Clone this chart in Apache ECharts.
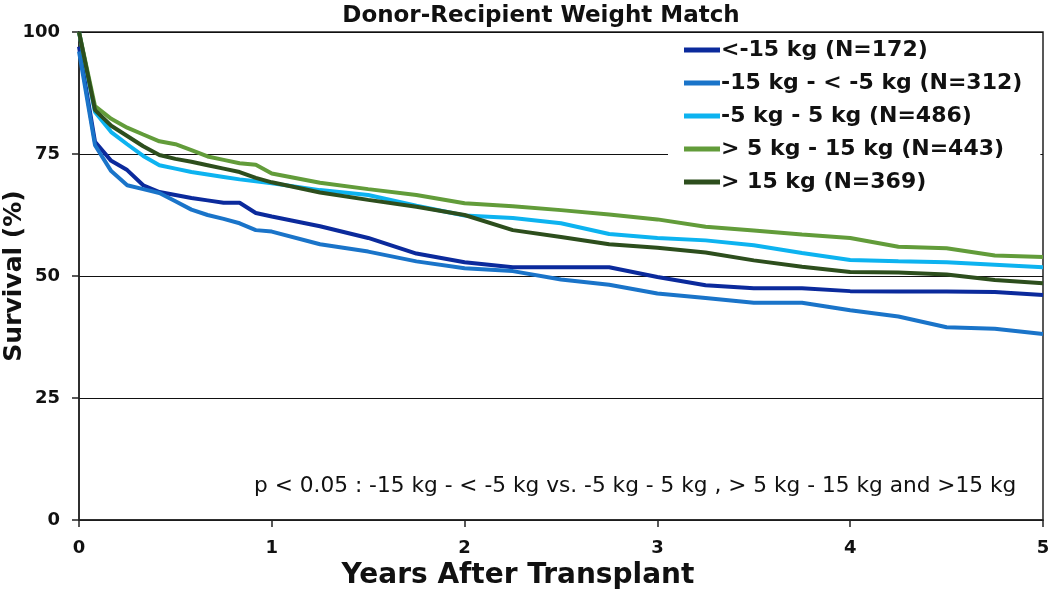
<!DOCTYPE html>
<html>
<head>
<meta charset="utf-8">
<script src="https://cdn.jsdelivr.net/npm/echarts@6/dist/echarts.min.js"></script>
<style>html,body{margin:0;padding:0;background:#fff;}#c{width:1050px;height:591px;}</style>
</head>
<body>
<div id="c"></div>
<script>
const years = [0, 0.083, 0.167, 0.25, 0.333, 0.417, 0.5, 0.583, 0.667, 0.75, 0.833, 0.917, 1.0, 1.25, 1.5, 1.75, 2.0, 2.25, 2.5, 2.75, 3.0, 3.25, 3.5, 3.75, 4.0, 4.25, 4.5, 4.75, 5.0];
const seriesNames = ['<-15 kg (N=172)', '-15 kg - < -5 kg (N=312)', '-5 kg - 5 kg (N=486)', '> 5 kg - 15 kg (N=443)', '> 15 kg (N=369)'];
const ltMinus15 = [97, 77.5, 73.6, 71.7, 68.6, 67.2, 66.6, 66.0, 65.5, 65.0, 65.0, 62.9, 62.2, 60.2, 57.8, 54.6, 52.8, 51.8, 51.8, 51.8, 49.8, 48.1, 47.5, 47.5, 46.9, 46.8, 46.8, 46.7, 46.1];
const minus15to5 = [96, 76.8, 71.5, 68.6, 67.8, 67.0, 65.3, 63.6, 62.5, 61.7, 60.8, 59.4, 59.1, 56.5, 55.0, 53.0, 51.6, 51.0, 49.3, 48.2, 46.4, 45.5, 44.5, 44.5, 43.0, 41.7, 39.5, 39.2, 38.1];
const minus5to5 = [100, 83.6, 79.5, 77.0, 74.6, 72.7, 72.0, 71.3, 70.8, 70.3, 69.8, 69.4, 69.0, 67.6, 66.6, 64.4, 62.4, 61.9, 60.8, 58.6, 57.8, 57.3, 56.3, 54.7, 53.3, 53.0, 52.8, 52.3, 51.8];
const plus5to15 = [100, 84.8, 82.2, 80.4, 79.0, 77.6, 77.0, 75.8, 74.5, 73.8, 73.1, 72.8, 71.0, 69.1, 67.8, 66.6, 64.9, 64.3, 63.5, 62.6, 61.6, 60.1, 59.3, 58.5, 57.8, 56.0, 55.7, 54.2, 53.9];
const gt15 = [100, 84.0, 80.8, 78.7, 76.6, 74.8, 74.0, 73.4, 72.7, 72.0, 71.3, 70.1, 69.2, 67.1, 65.6, 64.2, 62.5, 59.4, 58.0, 56.5, 55.8, 54.8, 53.2, 51.9, 50.8, 50.7, 50.3, 49.2, 48.5];
const colors = ['#0B2A9C', '#1A74C9', '#0DB3F0', '#629C3A', '#2D4E1D'];
const xTicks = [0, 1, 2, 3, 4, 5];
const yTicks = [0, 25, 50, 75, 100];

const allValues = [ltMinus15, minus15to5, minus5to5, plus5to15, gt15];
const chart = echarts.init(document.getElementById('c'), null, {renderer: 'canvas'});
const FONT = 'DejaVu Sans';
chart.setOption({
  animation: false,
  backgroundColor: '#fff',
  title: {
    text: 'Donor-Recipient Weight Match',
    left: 536, top: 0, textAlign: 'center',
    textStyle: {fontFamily: FONT, fontWeight: 'bold', fontSize: 23, color: '#111'}
  },
  grid: {left: 79, right: 7, top: 32, bottom: 71, show: true, borderColor: '#222', borderWidth: 1.5,
    backgroundColor: 'transparent', containLabel: false, outerBoundsMode: 'none'},
  legend: {
    data: seriesNames,
    orient: 'vertical',
    left: 668, top: 33,
    padding: [6, 18, 8, 16],
    backgroundColor: '#fff',
    itemWidth: 36, itemHeight: 5, itemGap: 11,
    icon: 'rect',
    textStyle: {fontFamily: FONT, fontWeight: 'bold', fontSize: 22, color: '#111', padding: [0, 0, 0, -4]}
  },
  xAxis: {
    type: 'value', min: 0, max: 5, interval: 1,
    name: 'Years After Transplant', nameLocation: 'middle', nameGap: 40,
    nameTextStyle: {fontFamily: FONT, fontWeight: 'bold', fontSize: 28, color: '#111', padding: [0, 86, 0, 0]},
    axisLine: {lineStyle: {color: '#222', width: 1.5}},
    axisTick: {show: true, length: 7, lineStyle: {color: '#222', width: 1.5}},
    axisLabel: {fontFamily: FONT, fontWeight: 'bold', fontSize: 18, color: '#111', margin: 19,
      formatter: v => xTicks.includes(v) ? String(v) : ''},
    splitLine: {show: false}
  },
  yAxis: {
    type: 'value', min: 0, max: 100, interval: 25,
    name: 'Survival (%)', nameLocation: 'middle', nameGap: 52, nameMoveOverlap: false,
    nameTextStyle: {fontFamily: FONT, fontWeight: 'bold', fontSize: 25, color: '#111'},
    axisLine: {show: true, lineStyle: {color: '#222', width: 1.5}},
    axisTick: {show: true, length: 7, lineStyle: {color: '#222', width: 1.5}},
    axisLabel: {fontFamily: FONT, fontWeight: 'bold', fontSize: 18, color: '#111', margin: 19,
      formatter: v => yTicks.includes(v) ? String(v) : ''},
    splitLine: {show: true, lineStyle: {color: '#111', width: 1}}
  },
  graphic: [{
    type: 'text', left: 254, top: 475,
    style: {text: 'p < 0.05 : -15 kg - < -5 kg vs. -5 kg - 5 kg , > 5 kg - 15 kg and >15 kg',
      font: 'normal 21.7px "DejaVu Sans"', fill: '#111'}
  }],
  series: seriesNames.map((n, i) => ({
    name: n, type: 'line', symbol: 'none', smooth: false,
    data: years.map((t, j) => [t, allValues[i][j]]),
    lineStyle: {color: colors[i], width: 4},
    itemStyle: {color: colors[i]},
    z: 2 + i
  }))
});
</script>
</body>
</html>
